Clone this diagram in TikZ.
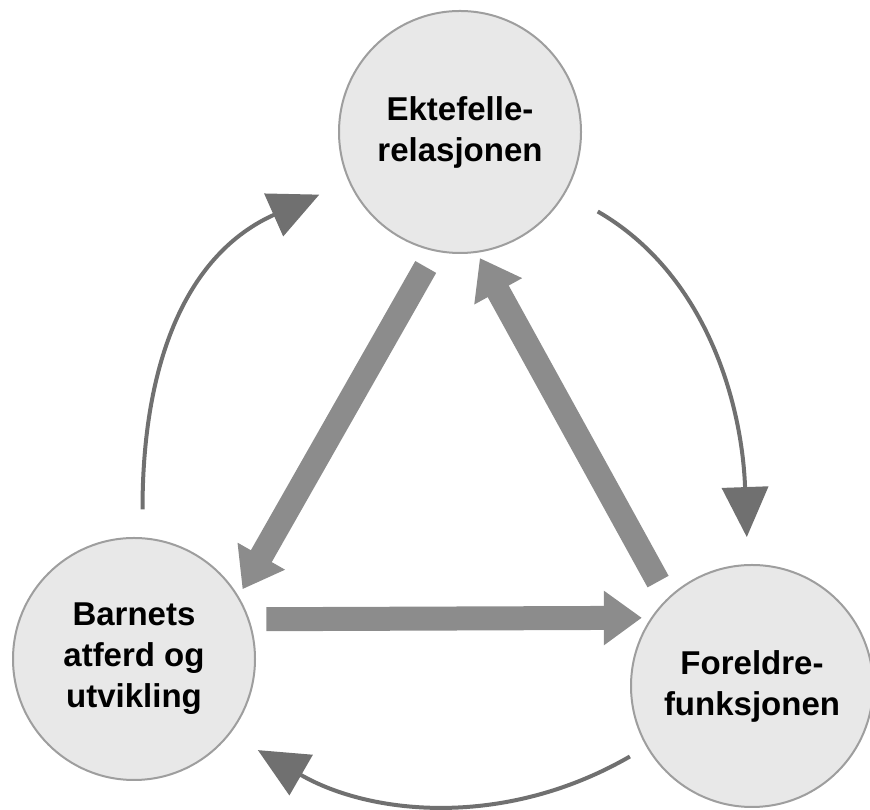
\documentclass[tikz,border=0pt]{standalone}
\usepackage{fontspec}
\setmainfont{Liberation Sans}
\usetikzlibrary{arrows.meta}

\tikzset{
  cercle/.style={circle,draw=black!38,line width=2pt,fill=black!9,minimum size=242pt,
    inner sep=0pt,align=center,font=\fontsize{33}{41}\selectfont\bfseries},
  grosse/.style={line width=24pt,draw=black!45,-{Triangle[length=38pt,width=52pt]}},
  courbe/.style={line width=4pt,draw=black!56,-{Triangle[length=50pt,width=46pt]}}
}

\begin{document}
\begin{tikzpicture}[x=1pt,y=1pt]
 \useasboundingbox (0,0) rectangle (870,810);
 % cercles
 \node[cercle] (ektefelle) at (460,678) {Ektefelle-\\relasjonen};
 \node[cercle] (barnet) at (134,151) {Barnets\\atferd og\\utvikling};
 \node[cercle] (foreldre) at (752,124) {Foreldre-\\funksjonen};
 % fleches epaisses
 \draw[grosse,shorten <=18pt,shorten >=8pt] (ektefelle.258) -- (barnet.31);
 \draw[grosse,shorten <=19pt,shorten >=6pt] (foreldre.134) -- (ektefelle.278);
 \draw[grosse,shorten <=17pt,shorten >=9pt] (barnet.19) -- (foreldre.146);
 % arcs
 \draw[courbe,shorten <=28pt,shorten >=32pt] (barnet.86) to[out=90,in=204,looseness=1.1] (ektefelle);
 \draw[courbe,shorten <=37pt,shorten >=27pt] (ektefelle) to[out=-30,in=92] (foreldre);
 \draw[courbe,shorten <=19pt,shorten >=32pt] (foreldre) to[out=210,in=-30] (barnet.-38);
\end{tikzpicture}
\end{document}
